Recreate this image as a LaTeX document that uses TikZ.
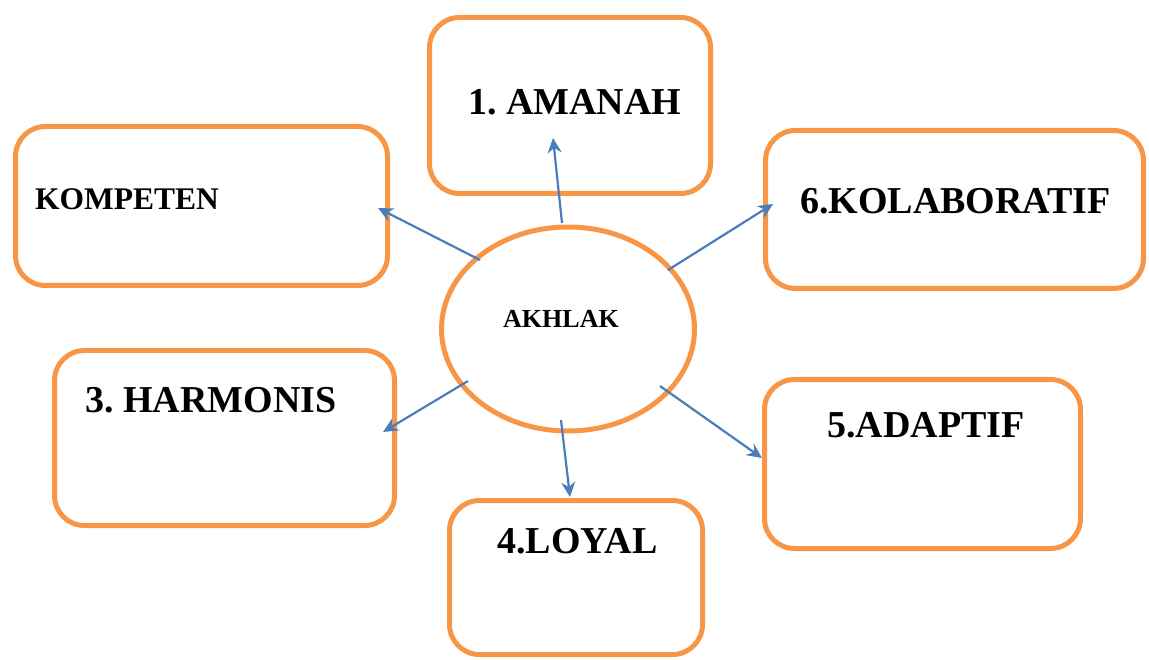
\documentclass[tikz,border=0pt]{standalone}
\usepackage{fontspec}
\setmainfont{Liberation Serif}
\usetikzlibrary{shapes.geometric, arrows.meta}
\definecolor{boxorange}{HTML}{F79646}
\definecolor{spokeblue}{HTML}{4A7EBB}
\frenchspacing

\begin{document}
\begin{tikzpicture}[x=1pt,y=-1pt,
	box/.style={draw=boxorange,line width=5pt,rounded corners=30pt,inner sep=0pt},
	boxtext/.style={anchor=base west,inner sep=0pt,font=\bfseries\fontsize{38}{42}\selectfont},
	spoke/.style={draw=spokeblue,line width=2.2pt,-{Stealth[length=15pt,width=14pt,inset=5pt]}}]
	\useasboundingbox (0,0) rectangle (1149,660);
	% boxes
	\node[box,minimum width=281pt,minimum height=176pt] (amanah) at (570,105.5) {};
	\node[box,minimum width=372pt,minimum height=159pt] (kompeten) at (201.5,206) {};
	\node[box,minimum width=378pt,minimum height=158pt] (kolaboratif) at (954.5,209.5) {};
	\node[box,minimum width=340pt,minimum height=175pt] (harmonis) at (224.5,438) {};
	\node[box,minimum width=316pt,minimum height=169pt] (adaptif) at (922.5,464) {};
	\node[box,minimum width=253pt,minimum height=154pt] (loyal) at (576,577.5) {};
	% centre
	\node[draw=boxorange,line width=5pt,ellipse,inner sep=0pt,minimum width=253pt,minimum height=204pt] (akhlak) at (568,329) {};
	% texts
	\node[boxtext] (amanah-text) at (468,115) {1. AMANAH};
	\node[boxtext,font=\bfseries\fontsize{31.5}{34}\selectfont] (kompeten-text) at (35,210) {KOMPETEN};
	\node[boxtext] (kolaboratif-text) at (800,214) {6.KOLABORATIF};
	\node[boxtext] (harmonis-text) at (85,412) {3. HARMONIS};
	\node[boxtext] (adaptif-text) at (827,437) {5.ADAPTIF};
	\node[boxtext] (loyal-text) at (497,553) {4.LOYAL};
	\node[boxtext,font=\bfseries\fontsize{26}{30}\selectfont] (akhlak-text) at (503,328) {AKHLAK};
	% arrow ends
	\coordinate (amanah-tail) at (562,223);
	\coordinate (amanah-tip) at (553,138);
	\coordinate (kompeten-tail) at (480,260);
	\coordinate (kompeten-tip) at (378,208);
	\coordinate (kolaboratif-tail) at (668,270);
	\coordinate (kolaboratif-tip) at (773,204);
	\coordinate (harmonis-tail) at (468,381);
	\coordinate (harmonis-tip) at (383,432);
	\coordinate (loyal-tail) at (561,420);
	\coordinate (loyal-tip) at (570,497);
	\coordinate (adaptif-tail) at (660,386);
	\coordinate (adaptif-tip) at (762,458);
	% arrows
	\draw[spoke] (amanah-tail) -- (amanah-tip);
	\draw[spoke] (kompeten-tail) -- (kompeten-tip);
	\draw[spoke] (kolaboratif-tail) -- (kolaboratif-tip);
	\draw[spoke] (harmonis-tail) -- (harmonis-tip);
	\draw[spoke] (loyal-tail) -- (loyal-tip);
	\draw[spoke] (adaptif-tail) -- (adaptif-tip);
\end{tikzpicture}
\end{document}
